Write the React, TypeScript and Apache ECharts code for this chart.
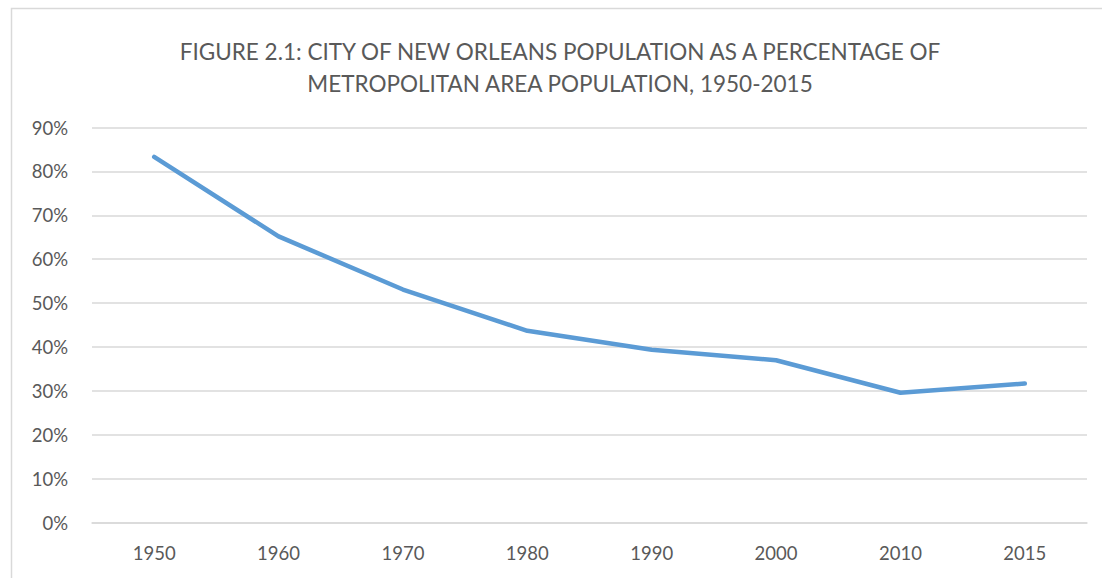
import React, { useEffect, useRef } from "react";
import * as echarts from "echarts";

const titleLines = [
  "FIGURE 2.1: CITY OF NEW ORLEANS POPULATION AS A PERCENTAGE OF",
  "METROPOLITAN AREA POPULATION, 1950-2015",
];
const years = ["1950", "1960", "1970", "1980", "1990", "2000", "2010", "2015"];
const cityShare = [83.3, 65.2, 53.1, 43.7, 39.4, 37.0, 29.6, 31.7];

const TEXT = "#595959";
const FONT = "Lato";

export default function App() {
  const ref = useRef<HTMLDivElement>(null);
  useEffect(() => {
    if (!ref.current) return;
    const chart = echarts.init(ref.current, null, { renderer: "svg" });
    chart.setOption({
      animation: false,
      backgroundColor: "#ffffff",
      title: {
        text: titleLines.join("\n"),
        left: 555,
        top: 30,
        textAlign: "center",
        textStyle: {
          fontFamily: FONT,
          fontSize: 22.5,
          fontWeight: "normal",
          color: TEXT,
          lineHeight: 32,
        },
      },
      graphic: [
        {
          type: "rect",
          shape: { x: 11.5, y: 8.5, width: 1200, height: 700 },
          style: { fill: "none", stroke: "#d9d9d9", lineWidth: 1.5 },
          silent: true,
          z: -1,
        },
      ],
      grid: { left: 92, right: 15, top: 127.5, bottom: 55.3, containLabel: false },
      xAxis: {
        type: "category",
        data: years,
        boundaryGap: true,
        axisLine: { show: true, lineStyle: { color: "#d9d9d9", width: 1.5 } },
        axisTick: { show: false },
        axisLabel: {
          color: TEXT,
          fontFamily: FONT,
          fontSize: 18.5,
          margin: 21,
        },
      },
      yAxis: {
        type: "value",
        min: 0,
        max: 90,
        interval: 10,
        axisLine: { show: false },
        axisTick: { show: false },
        splitLine: { lineStyle: { color: "#d9d9d9", width: 1.5 } },
        axisLabel: {
          color: TEXT,
          fontFamily: FONT,
          fontSize: 18.5,
          margin: 24,
          formatter: "{value}%",
        },
      },
      series: [
        {
          type: "line",
          data: cityShare,
          showSymbol: false,
          symbol: "none",
          lineStyle: { color: "#5b9bd5", width: 4.5, cap: "round", join: "round" },
          itemStyle: { color: "#5b9bd5" },
        },
      ],
    });
    return () => chart.dispose();
  }, []);
  return (
    <div
      ref={ref}
      style={{ position: "fixed", left: 0, top: 0, width: 1102, height: 578 }}
    />
  );
}
